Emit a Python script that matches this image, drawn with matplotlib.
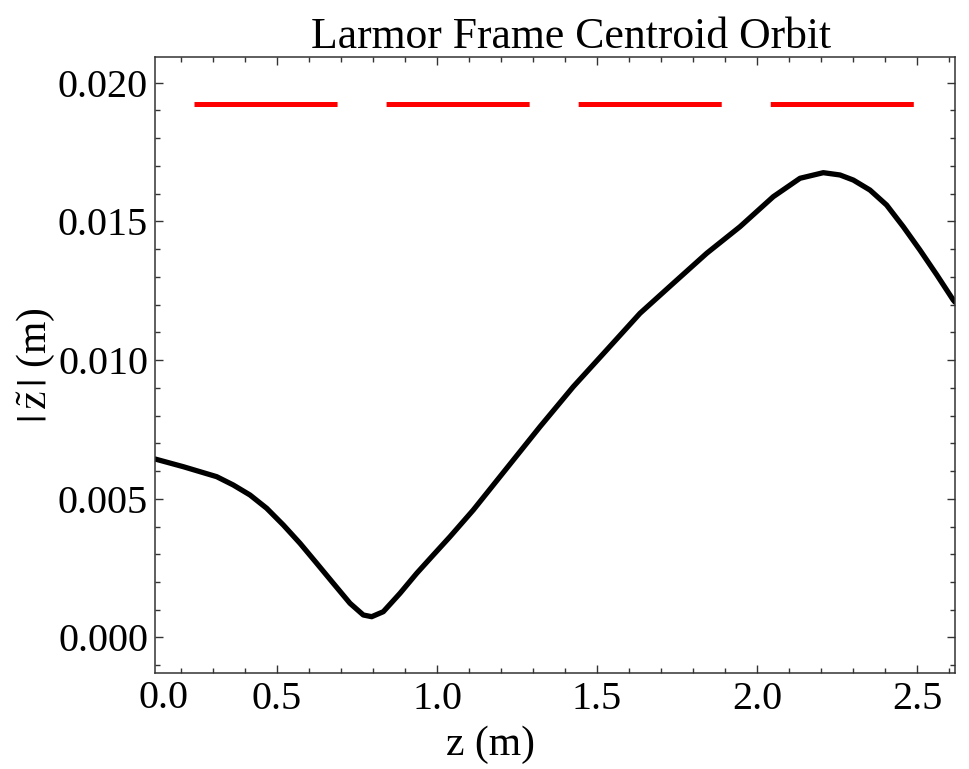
import matplotlib
matplotlib.use("Agg")
import matplotlib.pyplot as plt
from matplotlib.ticker import MultipleLocator

plt.rcParams['font.family'] = ['Liberation Serif', 'DejaVu Serif']
plt.rcParams['mathtext.fontset'] = 'stix'
plt.rcParams['lines.scale_dashes'] = False

# --- data ---
z_m = [0.1188, 0.2072, 0.3116, 0.3634, 0.4156, 0.4678, 0.5197, 0.5719, 0.6241,
       0.6759, 0.7281, 0.7697, 0.7959, 0.8322, 0.8844, 0.9366, 0.9884,
       1.0406, 1.1134, 1.2178, 1.3219, 1.4259, 1.5303, 1.6344, 1.7384, 1.8428,
       1.9469, 2.0509, 2.1344, 2.2072, 2.2594, 2.301, 2.353, 2.405, 2.457,
       2.509, 2.562, 2.613, 2.6188]
orbit_mm = [6.435, 6.157, 5.797, 5.497, 5.137, 4.658, 4.056, 3.396, 2.675,
            1.954, 1.233, 0.811, 0.750, 0.930, 1.593, 2.314, 2.974,
            3.634, 4.596, 6.100, 7.599, 9.041, 10.364, 11.687, 12.769, 13.850,
            14.809, 15.891, 16.554, 16.756, 16.673, 16.49, 16.13, 15.59, 14.81,
            13.97, 13.07, 12.17, 12.09]
orbit = [v * 1e-3 for v in orbit_mm]

aperture_z = [0.2394, 2.4906]
aperture_r = [0.01922, 0.01922]

title = "Larmor Frame Centroid Orbit"
xlabel = "z (m)"
ylabel = r"$|\,\tilde{\mathrm{z}}\,|$ (m)"
xtick_vals = [0.5, 1.0, 1.5, 2.0, 2.5]
xtick_labels = ["0.5", "1.0", "1.5", "2.0", "2.5"]
ytick_vals = [0.000, 0.005, 0.010, 0.015, 0.020]
ytick_labels = ["0.000", "0.005", "0.010", "0.015", "0.020"]

fig = plt.figure(figsize=(9.7, 7.69), dpi=100)
ax = fig.add_axes([155/970, 1-673/769, 800/970, 616/769])

ax.plot(aperture_z, aperture_r, color='#ff0000', lw=3.6, dashes=(103, 35.3),
        solid_capstyle='butt', dash_capstyle='butt')
ax.plot(z_m, orbit, color='black', lw=3.8, solid_capstyle='round',
        solid_joinstyle='round')

ax.set_xlim(0.11875, 2.61875)
ax.set_ylim(-0.00128, 0.020926)

ax.set_xticks(xtick_vals)
ax.set_xticklabels(xtick_labels)
ax.set_yticks(ytick_vals)
ax.set_yticklabels(ytick_labels)
ax.xaxis.set_minor_locator(MultipleLocator(0.1))
ax.yaxis.set_minor_locator(MultipleLocator(0.001))

ax.tick_params(which='both', direction='in', top=True, right=True,
               labelsize=29, width=1.0, color='#333333')
ax.tick_params(which='major', length=6)
ax.tick_params(which='minor', length=3.5)
ax.tick_params(axis='x', pad=6)
ax.tick_params(axis='y', pad=5)
for s in ax.spines.values():
    s.set_linewidth(1.1)
    s.set_color('#333333')

# "0.0" label as drawn in the reference, near the left frame edge
ax.text(0.144, -0.0116, "0.0", transform=ax.get_xaxis_transform(),
        ha='center', va='top', fontsize=29)

ax.set_title(title, fontsize=31.5, pad=6, x=0.52)
ax.set_xlabel(xlabel, fontsize=30)
ax.xaxis.set_label_coords(0.42, -0.085)
ax.set_ylabel(ylabel, fontsize=30)
ax.yaxis.set_label_coords(-0.123, 0.5)

fig.savefig("out.png", dpi=100)
